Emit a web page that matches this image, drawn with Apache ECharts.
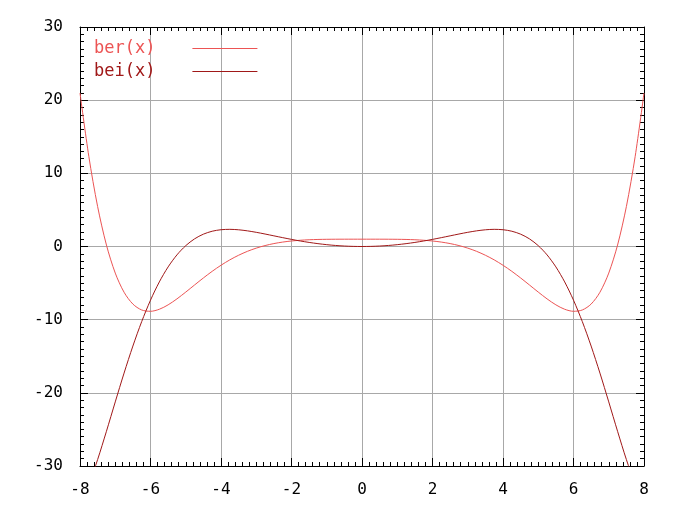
<!DOCTYPE html>
<html>
<head>
<meta charset="utf-8">
<script src="https://cdn.jsdelivr.net/npm/echarts@6/dist/echarts.min.js"></script>
<style>
html,body{margin:0;padding:0;background:#fff;}
#chart{width:683px;height:512px;}
</style>
</head>
<body>
<div id="chart"></div>
<script>
var xs = [-8, -7.75, -7.5, -7.25, -7, -6.75, -6.5, -6.25, -6, -5.75, -5.5, -5.25, -5, -4.75, -4.5, -4.25,
          -4, -3.75, -3.5, -3.25, -3, -2.75, -2.5, -2.25, -2, -1.75, -1.5, -1.25, -1, -0.75, -0.5, -0.25,
          0,
          0.25, 0.5, 0.75, 1, 1.25, 1.5, 1.75, 2, 2.25, 2.5, 2.75, 3, 3.25, 3.5, 3.75,
          4, 4.25, 4.5, 4.75, 5, 5.25, 5.5, 5.75, 6, 6.25, 6.5, 6.75, 7, 7.25, 7.5, 7.75, 8];
var berValues = [20.974, 12.326, 5.455, 0.200, -3.633, -6.252, -7.867, -8.675, -8.858, -8.578, -7.974, -7.160, -6.230, -5.258, -4.299, -3.392,
                 -2.563, -1.828, -1.194, -0.659, -0.221, 0.128, 0.400, 0.604, 0.752, 0.854, 0.921, 0.962, 0.984, 0.995, 0.999, 1.000,
                 1.000,
                 1.000, 0.999, 0.995, 0.984, 0.962, 0.921, 0.854, 0.752, 0.604, 0.400, 0.128, -0.221, -0.659, -1.194, -1.828,
                 -2.563, -3.392, -4.299, -5.258, -6.230, -7.160, -7.974, -8.578, -8.858, -8.675, -7.867, -6.252, -3.633, 0.200, 5.455, 12.326, 20.974];
var beiValues = [-35.017, -32.504, -29.116, -25.256, -21.239, -17.301, -13.607, -10.264, -7.335, -4.844, -2.789, -1.147, 0.116, 1.045, 1.686, 2.087,
                 2.292, 2.346, 2.283, 2.138, 1.938, 1.705, 1.457, 1.210, 0.972, 0.753, 0.558, 0.389, 0.250, 0.141, 0.062, 0.016,
                 0.000,
                 0.016, 0.062, 0.141, 0.250, 0.389, 0.558, 0.753, 0.972, 1.210, 1.457, 1.705, 1.938, 2.138, 2.283, 2.346,
                 2.292, 2.087, 1.686, 1.045, 0.116, -1.147, -2.789, -4.844, -7.335, -10.264, -13.607, -17.301, -21.239, -25.256, -29.116, -32.504, -35.017];
var seriesNames = ['ber(x)', 'bei(x)'];
var xTicks = {min: -8, max: 8, interval: 2};
var yTicks = {min: -30, max: 30, interval: 10};

var berColor = '#ec5454';
var beiColor = '#a01818';
var font = 'DejaVu Sans Mono';

function pairs(vals) {
  return xs.map(function (x, i) { return [x, vals[i]]; });
}

function axisCommon(extra) {
  var base = {
    type: 'value',
    axisLine: {show: true, onZero: false, lineStyle: {color: '#000', width: 1}},
    axisTick: {show: true, inside: true, length: 8, lineStyle: {color: '#000', width: 1}},
    minorTick: {show: true, splitNumber: 10, length: 4, lineStyle: {color: '#000', width: 1}},
    splitLine: {show: false},
    minorSplitLine: {show: false}
  };
  for (var k in extra) base[k] = extra[k];
  return base;
}

var chart = echarts.init(document.getElementById('chart'), null, {renderer: 'canvas'});
chart.setOption({
  animation: false,
  backgroundColor: '#fff',
  grid: {left: 80, right: 39, top: 27, bottom: 46, containLabel: false},
  legend: {
    left: 89, top: 32, orient: 'vertical', align: 'right',
    icon: 'rect', itemWidth: 65, itemHeight: 1.2, itemGap: 0,
    selectedMode: false,
    data: [
      {name: seriesNames[0], textStyle: {color: berColor}, itemStyle: {color: berColor}},
      {name: seriesNames[1], textStyle: {color: beiColor}, itemStyle: {color: beiColor}}
    ],
    textStyle: {fontFamily: font, fontSize: 17, lineHeight: 23, padding: [0, 32, 0, 0]}
  },
  xAxis: [
    axisCommon({
      position: 'bottom', min: xTicks.min, max: xTicks.max, interval: xTicks.interval,
      splitLine: {show: true, lineStyle: {color: '#a8a8a8', width: 1}},
      axisLabel: {show: true, color: '#000', fontFamily: font, fontSize: 16, margin: 16}
    }),
    axisCommon({
      position: 'top', min: xTicks.min, max: xTicks.max, interval: xTicks.interval,
      axisLabel: {show: false}
    })
  ],
  yAxis: [
    axisCommon({
      position: 'left', min: yTicks.min, max: yTicks.max, interval: yTicks.interval,
      splitLine: {show: true, lineStyle: {color: '#a8a8a8', width: 1}},
      axisLabel: {show: true, color: '#000', fontFamily: font, fontSize: 16, margin: 17}
    }),
    axisCommon({
      position: 'right', min: yTicks.min, max: yTicks.max, interval: yTicks.interval,
      axisLabel: {show: false}
    })
  ],
  series: [
    {
      name: seriesNames[0], type: 'line', data: pairs(berValues),
      smooth: 0.3, symbol: 'none', clip: true,
      lineStyle: {color: berColor, width: 1}, itemStyle: {color: berColor}
    },
    {
      name: seriesNames[1], type: 'line', data: pairs(beiValues),
      smooth: 0.3, symbol: 'none', clip: true,
      lineStyle: {color: beiColor, width: 1}, itemStyle: {color: beiColor}
    }
  ]
});
</script>
</body>
</html>
